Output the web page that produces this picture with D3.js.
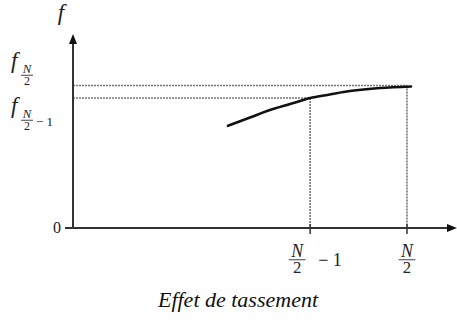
<!DOCTYPE html>
<html><head><meta charset="utf-8">
<script src="https://cdn.jsdelivr.net/npm/d3@7"></script>
<style>body{margin:0;background:#fff}svg{display:block}</style>
</head><body><svg id="c" width="457" height="322"></svg>
<script>
// data
const xTicks = [0.71, 1.0];                 // N/2 - 1, N/2
const xTickLabels = ["N/2-1", "N/2"];
const yLevels = [1.0, 0.912];                // f_{N/2}, f_{N/2-1}
const yLevelLabels = ["N/2", "N/2-1"];
const curveX = [0.464, 0.53, 0.581, 0.65, 0.68, 0.71, 0.769, 0.829, 0.919, 1.012];
const curveY = [0.718, 0.775, 0.821, 0.870, 0.891, 0.912, 0.937, 0.961, 0.982, 0.993];
const title = "Effet de tassement";

const FONT = "Liberation Serif";
const svg = d3.select("#c");
const x0 = 73, y0 = 228;
const x = d3.scaleLinear().domain([0, 1]).range([x0, 407]);
const y = d3.scaleLinear().domain([0, 1]).range([y0, 85.5]);
const axisCol = "#333", dotCol = "#777";

function txt(g, xx, yy, s, size, italic) {
  return g.append("text").attr("x", xx).attr("y", yy).attr("font-family", FONT)
    .attr("font-style", italic ? "italic" : "normal").attr("font-size", size).attr("fill", "#222").text(s);
}

// dotted guides
yLevels.forEach((v, i) => {
  const xe = x(xTicks[xTicks.length - 1 - i]);
  svg.append("line").attr("x1", x0).attr("x2", xe).attr("y1", y(v)).attr("y2", y(v))
    .attr("stroke", dotCol).attr("stroke-width", 1.6).attr("stroke-dasharray", "2,1");
  svg.append("line").attr("x1", xe).attr("x2", xe).attr("y1", y(v)).attr("y2", y0)
    .attr("stroke", dotCol).attr("stroke-width", 1.6).attr("stroke-dasharray", "2,1");
});

// axes
svg.append("line").attr("x1", 65).attr("x2", 450).attr("y1", y0).attr("y2", y0)
  .attr("stroke", axisCol).attr("stroke-width", 2);
svg.append("path").attr("d", `M457,${y0} L447,${y0-4} L447,${y0+4} Z`).attr("fill", "#111");
svg.append("line").attr("x1", x0).attr("x2", x0).attr("y1", y0).attr("y2", 42)
  .attr("stroke", axisCol).attr("stroke-width", 2);
svg.append("path").attr("d", `M${x0},34 L${x0-4},44 L${x0+4},44 Z`).attr("fill", "#111");

// ticks
xTicks.forEach(v => {
  svg.append("line").attr("x1", x(v)).attr("x2", x(v)).attr("y1", y0 - 4).attr("y2", y0 + 6)
    .attr("stroke", axisCol).attr("stroke-width", 1.5);
});

// curve
const pts = curveX.map((d, i) => [x(d), y(curveY[i])]);
svg.append("path").attr("d", d3.line().curve(d3.curveCatmullRom)(pts))
  .attr("fill", "none").attr("stroke", "#111").attr("stroke-width", 2.6).attr("stroke-linecap", "round");

// fraction helper N/2 (one text element with two tspans)
function frac(g, cx, top, s) {
  const t = g.append("text").attr("font-family", FONT).attr("fill", "#222").attr("text-anchor", "middle");
  t.append("tspan").attr("x", cx).attr("y", top + 12 * s).attr("font-style", "italic")
    .attr("font-size", 17 * s).text("N");
  t.append("tspan").attr("x", cx).attr("y", top + 28 * s).attr("font-size", 16 * s).text("2");
  g.append("line").attr("x1", cx - 8 * s).attr("x2", cx + 8 * s).attr("y1", top + 15 * s).attr("y2", top + 15 * s)
    .attr("stroke", "#444").attr("stroke-width", 1);
}

// x tick labels
xTicks.forEach((v, i) => {
  const g = svg.append("g");
  const m = xTickLabels[i].endsWith("-1");
  frac(g, x(v) - (m ? 13 : 0), 244, 1.05);
  if (m) txt(g, x(v) + 8, 266, "\u2212 1", 18, false);
});

// y labels
yLevels.forEach((v, i) => {
  const g = svg.append("g");
  const base = i === 0 ? 68 : 113;
  txt(g, 11, base, "f", 23, true);
  frac(g, 27, base - 4, 0.75);
  if (yLevelLabels[i].endsWith("-1")) txt(g, 36, base + 13, "\u2212 1", 13, false);
});

txt(svg, 57, 233, "0", 16, false).attr("text-anchor", "middle");
txt(svg, 61, 20, "f", 23, true).attr("text-anchor", "middle");

txt(svg, 238, 307, title, 22, true).attr("text-anchor", "middle").attr("fill", "#111");
</script></body></html>
